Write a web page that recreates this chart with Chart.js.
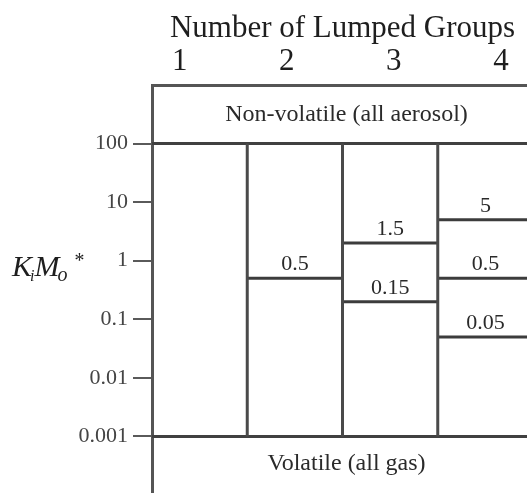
<!DOCTYPE html>
<html>
<head>
<meta charset="utf-8">
<title>Lumped volatility groups</title>
<script src="https://cdn.jsdelivr.net/npm/chart.js@4.4.0/dist/chart.umd.min.js"></script>
<style>
  html, body { margin: 0; padding: 0; background: #fff; overflow: hidden; }
  #wrap { width: 527px; height: 493px; overflow: hidden; }
</style>
</head>
<body>
<div id="wrap"><canvas id="chart" width="560" height="520"></canvas></div>
<script>
// --- data ---
const groupTicks = ['1', '2', '3', '4'];                 // number of lumped groups
const columnEdges = [0, 1, 2, 3, 4];                      // column boundaries
const yTickValues = [0.001, 0.01, 0.1, 1, 10, 100];
const yTickLabels = ['0.001', '0.01', '0.1', '1', '10', '100'];
const bandLimits = [100, 0.001];                          // non-volatile above, volatile below
const bandLabels = ['Non-volatile (all aerosol)', 'Volatile (all gas)'];
const levelColumns = [1, 2, 2, 3, 3, 3];                  // which column each split line is in
const levelValues = [0.5, 2, 0.2, 5, 0.5, 0.05];          // where the lines sit on the axis
const levelLabels = ['0.5', '1.5', '0.15', '5', '0.5', '0.05'];

const SERIF = '"Liberation Serif", "Times New Roman", serif';

function seg(points, color) {
    return {
        data: points,
        showLine: true,
        borderColor: color,
        borderWidth: 3,
        pointRadius: 0,
        fill: false
    };
}

// build the line segments
const datasets = [];
columnEdges.slice(1, -1).forEach(x => {
    datasets.push(seg([{ x: x, y: bandLimits[1] }, { x: x, y: bandLimits[0] }], '#4a4a4a'));
});
bandLimits.forEach(v => {
    datasets.push(seg([{ x: columnEdges[0], y: v }, { x: columnEdges[columnEdges.length - 1], y: v }], '#404040'));
});
levelValues.forEach((v, i) => {
    const c = levelColumns[i];
    datasets.push(seg([{ x: columnEdges[c], y: v }, { x: columnEdges[c + 1], y: v }], '#3c3c3c'));
});

// labels drawn on top of the chart area
const annotations = {
    id: 'annotations',
    afterDatasetsDraw(chart) {
        const ctx = chart.ctx;
        const xs = chart.scales.x;
        const ys = chart.scales.y;
        ctx.save();
        ctx.fillStyle = '#2a2a2a';
        ctx.textAlign = 'center';
        ctx.textBaseline = 'alphabetic';

        // split values
        ctx.font = '22px ' + SERIF;
        levelValues.forEach((v, i) => {
            const c = levelColumns[i];
            const cx = (xs.getPixelForValue(columnEdges[c]) + xs.getPixelForValue(columnEdges[c + 1])) / 2;
            ctx.fillText(levelLabels[i], cx, ys.getPixelForValue(v) - 8);
        });

        // band texts
        ctx.font = '24px ' + SERIF;
        ctx.textBaseline = 'middle';
        const cxAll = (chart.chartArea.left + chart.chartArea.right) / 2 + 4;
        const topMid = (chart.chartArea.top + ys.getPixelForValue(bandLimits[0])) / 2;
        const botMid = ys.getPixelForValue(bandLimits[1]) + 27;
        ctx.fillText(bandLabels[0], cxAll, topMid);
        ctx.fillText(bandLabels[1], cxAll, botMid);

        // y title: K_i M_o *
        ctx.fillStyle = '#1e1e1e';
        ctx.textAlign = 'left';
        ctx.textBaseline = 'alphabetic';
        const base = ys.getPixelForValue(1) + 15;
        let x = 12;
        const part = (txt, size, dy) => {
            ctx.font = 'italic ' + size + 'px ' + SERIF;
            ctx.fillText(txt, x, base + dy);
            x += ctx.measureText(txt).width;
        };
        part('K', 30, 0);
        x -= 2;
        part('i', 16, 5);
        part('M', 30, 0);
        x -= 2;
        part('o', 20, 5);
        x += 6;
        part('*', 20, -9);
        ctx.restore();
    }
};

new Chart(document.getElementById('chart'), {
    type: 'scatter',
    data: { datasets: datasets },
    options: {
        responsive: false,
        animation: false,
        layout: { padding: { left: 0, right: 27, top: 0, bottom: 25 } },
        plugins: {
            legend: { display: false },
            tooltip: { enabled: false }
        },
        scales: {
            x: { type: 'linear', min: 0, max: 4, display: false },
            xTop: {
                type: 'linear',
                position: 'top',
                min: 0.74,
                max: 4.3,
                afterFit: s => { s.height = 85; },
                afterBuildTicks: s => { s.ticks = groupTicks.map((t, i) => ({ value: i + 1 })); },
                grid: { display: false },
                border: { display: true, color: '#555', width: 3 },
                ticks: {
                    autoSkip: false,
                    maxRotation: 0,
                    padding: -3,
                    color: '#1e1e1e',
                    font: { family: SERIF, size: 31 },
                    callback: (v, i) => groupTicks[i]
                },
                title: {
                    display: true,
                    text: 'Number of Lumped Groups',
                    color: '#1e1e1e',
                    font: { family: SERIF, size: 31 },
                    padding: { top: 10, bottom: 0 }
                }
            },
            y: {
                type: 'logarithmic',
                min: 1e-4,
                max: 1e3,
                afterFit: s => { s.width = 152; },
                afterBuildTicks: s => { s.ticks = yTickValues.map(v => ({ value: v })); },
                grid: { drawOnChartArea: false, tickLength: 19, color: '#5a5a5a', lineWidth: 2 },
                border: { display: true, color: '#555', width: 3 },
                ticks: {
                    padding: 5,
                    color: '#444',
                    font: { family: SERIF, size: 22 },
                    callback: (v, i) => yTickLabels[i]
                }
            }
        }
    },
    plugins: [annotations]
});
</script>
</body>
</html>
